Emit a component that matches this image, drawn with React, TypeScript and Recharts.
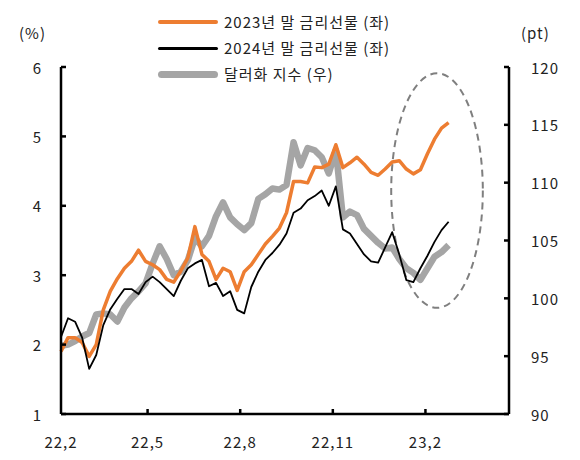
import React from "react";
import { LineChart, Line, XAxis, YAxis, ReferenceArea } from "recharts";

// weekly observations, day offset from 2022-02-01
const startDay = 3;
const stepDays = 7;

const rates2023 = [
  1.9, 2.1, 2.1, 2.03, 1.83, 2.0, 2.5, 2.77, 2.95, 3.1,
  3.2, 3.36, 3.2, 3.15, 3.08, 2.94, 2.9, 3.06, 3.25, 3.7,
  3.3, 3.2, 2.94, 3.1, 3.05, 2.78, 3.05, 3.15, 3.3, 3.45,
  3.56, 3.68, 3.9, 4.35, 4.35, 4.33, 4.56, 4.55, 4.6, 4.88,
  4.55, 4.62, 4.7, 4.6, 4.48, 4.44, 4.53, 4.63, 4.65, 4.53,
  4.46, 4.52, 4.75, 4.96, 5.12, 5.2,
];

const rates2024 = [
  2.11, 2.38, 2.33, 2.1, 1.65, 1.85, 2.28, 2.51, 2.66, 2.8,
  2.8, 2.73, 2.9, 2.98, 2.9, 2.8, 2.7, 2.92, 3.1, 3.17,
  3.22, 2.84, 2.89, 2.7, 2.77, 2.5, 2.45, 2.83, 3.05, 3.22,
  3.32, 3.44, 3.6, 3.9, 3.96, 4.08, 4.14, 4.22, 4.0, 4.28,
  3.66, 3.6, 3.45, 3.3, 3.2, 3.18, 3.4, 3.62, 3.3, 2.93,
  2.9, 3.1, 3.28, 3.48, 3.65, 3.77,
];

const dollarIndex = [
  95.9, 96.0, 96.3, 96.7, 97.0, 98.6, 98.7, 98.6, 98.0, 99.2,
  100.0, 100.6, 101.3, 103.0, 104.5, 103.4, 102.0, 102.3, 103.3, 105.2,
  104.5, 105.4, 107.1, 108.3, 107.0, 106.4, 105.9, 106.5, 108.6, 109.0,
  109.5, 109.4, 109.8, 113.5, 111.5, 113.0, 112.8, 112.2, 110.8, 112.8,
  107.0, 107.5, 107.2, 106.0, 105.4, 104.8, 104.3, 104.4, 103.4, 102.6,
  102.2, 101.6, 102.6, 103.6, 104.0, 104.6,
];

const xTicks = [3, 89, 181, 273, 365];
const xTickLabels = ["22,2", "22,5", "22,8", "22,11", "23,2"];
const leftTicks = [1, 2, 3, 4, 5, 6];
const rightTicks = [90, 95, 100, 105, 110, 115, 120];

const seriesNames = ["2023년 말 금리선물 (좌)", "2024년 말 금리선물 (좌)", "달러화 지수 (우)"];
const highlight = { x1: 331, x2: 422, y1: 2.53, y2: 5.91 };

const ORANGE = "#ED7D31";
const BLACK = "#000000";
const GRAY = "#A5A5A5";
const FONT = "'Noto Sans CJK KR', 'Noto Sans', sans-serif";
const TEXT = "#222222";

const data = rates2023.map((v, i) => ({
  day: startDay + i * stepDays,
  r23: v,
  r24: rates2024[i],
  dxy: dollarIndex[i],
}));

const LeftTick = (props: any) => {
  const { x, y, payload } = props;
  return (
    <g>
      <line x1={x} x2={x + 5} y1={y} y2={y} stroke="#000" strokeWidth={2.5} />
      <text x={x - 19} y={y} textAnchor="end" dominantBaseline="central" fontSize={15} letterSpacing={1} fontFamily={FONT} fill={TEXT}>
        {payload.value}
      </text>
    </g>
  );
};

const RightTick = (props: any) => {
  const { x, y, payload } = props;
  return (
    <g>
      <line x1={x - 5} x2={x} y1={y} y2={y} stroke="#000" strokeWidth={2.5} />
      <text x={x + 22} y={y} textAnchor="start" dominantBaseline="central" fontSize={15} letterSpacing={1} fontFamily={FONT} fill={TEXT}>
        {payload.value}
      </text>
    </g>
  );
};

const BottomTick = (props: any) => {
  const { x, y, payload } = props;
  const idx = xTicks.indexOf(payload.value);
  return (
    <g>
      {idx > 0 && <line x1={x} x2={x} y1={y - 5} y2={y} stroke="#000" strokeWidth={2.5} />}
      <text x={x} y={y + 27} textAnchor="middle" dominantBaseline="central" fontSize={15} letterSpacing={1} fontFamily={FONT} fill={TEXT}>
        {idx >= 0 ? xTickLabels[idx] : ""}
      </text>
    </g>
  );
};

const EllipseShape = (props: any) => {
  const { x, y, width, height } = props;
  return (
    <ellipse
      cx={x + width / 2}
      cy={y + height / 2}
      rx={Math.abs(width) / 2}
      ry={Math.abs(height) / 2}
      fill="none"
      stroke="#7F7F7F"
      strokeWidth={2}
      strokeDasharray="7 5"
    />
  );
};

const legendItems = [
  { name: seriesNames[0], color: ORANGE, w: 4 },
  { name: seriesNames[1], color: BLACK, w: 3 },
  { name: seriesNames[2], color: GRAY, w: 7 },
];

export default function App() {
  return (
    <div style={{ position: "relative", width: 564, height: 444, fontFamily: FONT, background: "#fff" }}>
      <LineChart width={564} height={444} data={data} margin={{ top: 59, right: 0, left: 0, bottom: 0 }}>
        <XAxis
          type="number"
          dataKey="day"
          domain={[3, 448]}
          ticks={xTicks}
          interval={0}
          height={38}
          tickSize={0}
          tickMargin={0}
          tickLine={false}
          tick={BottomTick}
          axisLine={{ stroke: "#000", strokeWidth: 2.5 }}
        />
        <YAxis
          yAxisId="left"
          orientation="left"
          domain={[1, 6]}
          ticks={leftTicks}
          interval={0}
          width={53}
          tickSize={0}
          tickMargin={0}
          tickLine={false}
          tick={LeftTick}
          axisLine={{ stroke: "#000", strokeWidth: 2.5 }}
        />
        <YAxis
          yAxisId="right"
          orientation="right"
          domain={[90, 120]}
          ticks={rightTicks}
          interval={0}
          width={63}
          tickSize={0}
          tickMargin={0}
          tickLine={false}
          tick={RightTick}
          axisLine={{ stroke: "#000", strokeWidth: 2.5 }}
        />
        <Line
          yAxisId="right"
          type="linear"
          dataKey="dxy"
          stroke={GRAY}
          strokeWidth={6.5}
          dot={false}
          strokeLinejoin="round"
          isAnimationActive={false}
        />
        <Line
          yAxisId="left"
          type="linear"
          dataKey="r23"
          stroke={ORANGE}
          strokeWidth={3.5}
          dot={false}
          strokeLinejoin="round"
          isAnimationActive={false}
        />
        <Line
          yAxisId="left"
          type="linear"
          dataKey="r24"
          stroke={BLACK}
          strokeWidth={1.8}
          dot={false}
          strokeLinejoin="round"
          isAnimationActive={false}
        />
        <ReferenceArea
          yAxisId="left"
          x1={highlight.x1}
          x2={highlight.x2}
          y1={highlight.y1}
          y2={highlight.y2}
          shape={EllipseShape}
        />
      </LineChart>
      <div style={{ position: "absolute", left: 11, top: 14, fontSize: 15, letterSpacing: 1, color: TEXT }}>(%)</div>
      <div style={{ position: "absolute", left: 513, top: 14, fontSize: 15, letterSpacing: 1, color: TEXT }}>(pt)</div>
      {legendItems.map((it, i) => (
        <div
          key={it.name}
          style={{
            position: "absolute",
            left: 150,
            top: 14 + i * 26 - 11,
            height: 22,
            display: "flex",
            alignItems: "center",
            whiteSpace: "nowrap",
          }}
        >
          <div style={{ width: 60, height: it.w, background: it.color, borderRadius: it.w / 2 }} />
          <span style={{ marginLeft: 6, fontSize: 15, letterSpacing: 1, color: TEXT, lineHeight: "22px" }}>{it.name}</span>
        </div>
      ))}
    </div>
  );
}
